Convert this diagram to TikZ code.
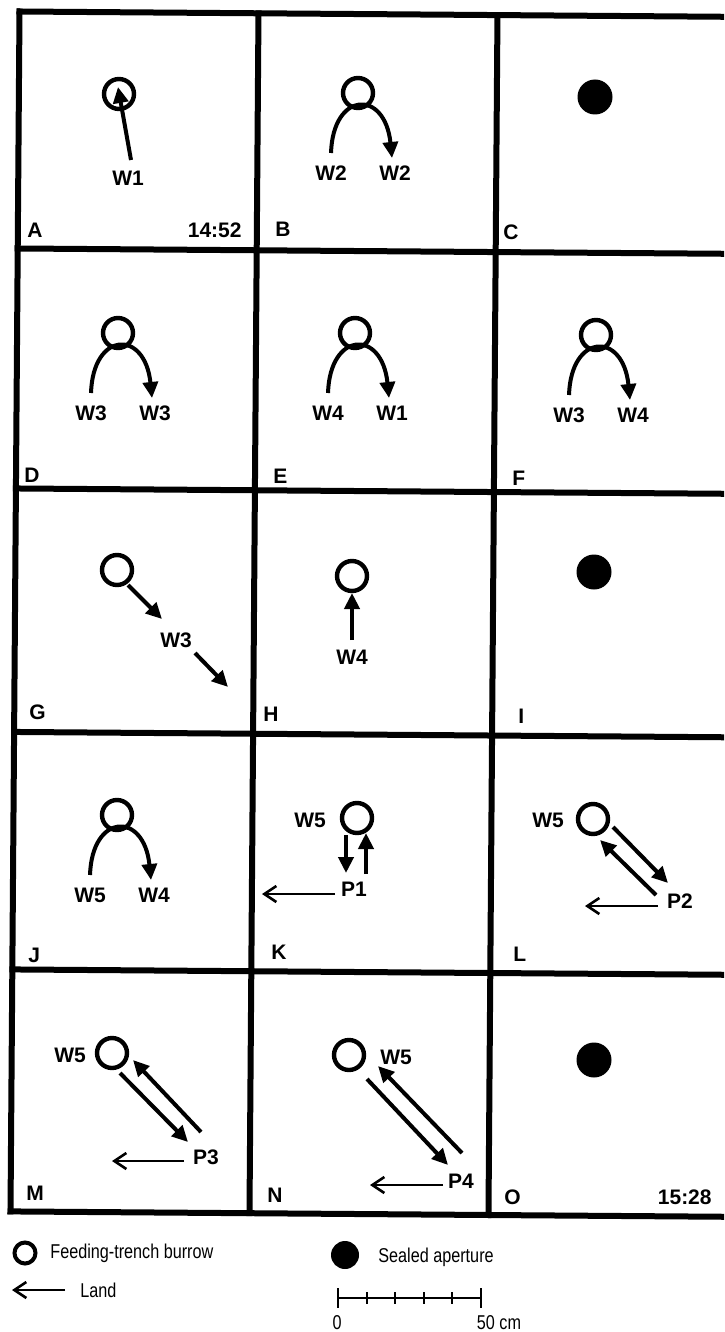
\documentclass[tikz,border=0pt]{standalone}
\usepackage{fontspec}
\setmainfont{Liberation Sans}
\newfontfamily\keyfont[FakeStretch=0.81]{Liberation Sans}
\usetikzlibrary{arrows.meta, positioning, calc}

\begin{document}
\begin{tikzpicture}[x=0.5pt, y=-0.5pt,
  burrow/.style={circle, draw, line width=2.2pt, minimum size=15pt, inner sep=0pt},
  sealed/.style={circle, fill, minimum size=17.5pt, inner sep=0pt},
  track/.style={line width=2pt, -{Triangle[length=8pt, width=7.5pt]}},
  land/.style={line width=1.3pt, -{Straight Barb[length=6pt, width=8pt]}},
  lab/.style={font=\bfseries\fontsize{10.5}{12}\selectfont, inner sep=1pt},
  panel/.style={font=\bfseries\fontsize{10.5}{12}\selectfont, inner sep=0pt, anchor=west},
  legend/.style={font=\keyfont\fontsize{10}{12}\selectfont, inner sep=0pt, anchor=west},
  gridline/.style={line width=3pt, line cap=rect}]

  \useasboundingbox (0,0) rectangle (724,1332);
  \clip (0,0) rectangle (724,1332);

  % grid of 15 panels (scan is slightly turned)
  \begin{scope}[rotate around={-0.43:(19.5,11.5)}]
    \foreach \gx in {19.5, 258.5, 497.5, 737}
      \draw[gridline] (\gx,11.5) -- (\gx,1211.5);
    \foreach \gy in {11.5, 248.5, 488.5, 732, 969.5, 1211.5}
      \draw[gridline] (19.5,\gy) -- (737,\gy);
  \end{scope}

  % panel letters
  \foreach \t/\lx/\ly in {A/27/230, B/275/229, C/503/232, D/24/475, E/273/476,
      F/512/478, G/29/712, H/263/714, I/518/716, J/28/955, K/271/952,
      L/513/954, M/26/1193, N/267/1195, O/504/1197}
    \node[panel] (p\t) at (\lx,\ly) {\t};
  \node[panel, anchor=east] (tmA) at (242,230) {14:52};
  \node[panel, anchor=east] (tmO) at (712,1197) {15:28};

  % A
  \node[burrow] (hA) at (119,94) {};
  \node[lab] (wA) at (128,178) {W1};
  \coordinate (sA) at (131,160);
  \coordinate (eA) at (118,87);
  \draw[track] (sA) -- (eA);

  % hairpin panels
  \foreach \p/\cx/\cy/\la/\lb in {B/358/93/W2/W2, D/118/333/W3/W3,
      E/355/333/W4/W1, F/596/335/W3/W4, J/117/815/W5/W4} {
    \begin{scope}[shift={(\cx,\cy)}]
      \node[burrow] (h\p) at (0,0) {};
      \node[lab] (l\p) at (-27,80) {\la};
      \node[lab] (r\p) at (37,80) {\lb};
      \coordinate (s\p) at (-27,60);
      \coordinate (e\p) at (34,65);
      \draw[track] (s\p) .. controls (-25,-2) and (27,-4) .. (e\p);
    \end{scope}
  }

  % sealed apertures
  \node[sealed] (hC) at (595,97) {};
  \node[sealed] (hI) at (594,572) {};
  \node[sealed] (hO) at (594,1060) {};

  % G
  \node[burrow] (hG) at (117,570) {};
  \node[lab] (wG) at (176,640) {W3};
  \coordinate (sG1) at (128,585);
  \coordinate (eG1) at (162,619);
  \coordinate (sG2) at (195,653);
  \coordinate (eG2) at (228,687);
  \draw[track] (sG1) -- (eG1);
  \draw[track] (sG2) -- (eG2);

  % H
  \node[burrow] (hH) at (352,576) {};
  \node[lab] (wH) at (352,657) {W4};
  \coordinate (sH) at (352,640);
  \coordinate (eH) at (352,593);
  \draw[track] (sH) -- (eH);

  % K
  \node[burrow] (hK) at (357,818) {};
  \node[lab] (wK) at (310,820) {W5};
  \node[lab] (qK) at (354,889) {P1};
  \coordinate (sK1) at (346,835);
  \coordinate (eK1) at (346,873);
  \coordinate (sK2) at (366,874);
  \coordinate (eK2) at (366,833);
  \coordinate (nK) at (335,894);
  \coordinate (mK) at (262,894);
  \draw[track] (sK1) -- (eK1);
  \draw[track] (sK2) -- (eK2);
  \draw[land] (nK) -- (mK);

  % L
  \node[burrow] (hL) at (593,819) {};
  \node[lab] (wL) at (548,820) {W5};
  \node[lab] (qL) at (680,901) {P2};
  \coordinate (sL1) at (613,827);
  \coordinate (eL1) at (668,883);
  \coordinate (sL2) at (656,895);
  \coordinate (eL2) at (600,840);
  \coordinate (nL) at (658,906);
  \coordinate (mL) at (585,906);
  \draw[track] (sL1) -- (eL1);
  \draw[track] (sL2) -- (eL2);
  \draw[land] (nL) -- (mL);

  % M
  \node[burrow] (hM) at (112,1053) {};
  \node[lab] (wM) at (70,1055) {W5};
  \node[lab] (qM) at (206,1157) {P3};
  \coordinate (sM1) at (120,1073);
  \coordinate (eM1) at (188,1142);
  \coordinate (sM2) at (201,1132);
  \coordinate (eM2) at (133,1060);
  \coordinate (nM) at (184,1161);
  \coordinate (mM) at (112,1161);
  \draw[track] (sM1) -- (eM1);
  \draw[track] (sM2) -- (eM2);
  \draw[land] (nM) -- (mM);

  % N
  \node[burrow] (hN) at (349,1055) {};
  \node[lab] (wN) at (396,1057) {W5};
  \node[lab] (qN) at (461,1181) {P4};
  \coordinate (sN1) at (367,1079);
  \coordinate (eN1) at (448,1165);
  \coordinate (sN2) at (462,1153);
  \coordinate (eN2) at (378,1066);
  \coordinate (nN) at (443,1185);
  \coordinate (mN) at (370,1185);
  \draw[track] (sN1) -- (eN1);
  \draw[track] (sN2) -- (eN2);
  \draw[land] (nN) -- (mN);

  % legend
  \node[burrow, minimum size=10.5pt, line width=2pt] (kB) at (25,1253) {};
  \node[legend] (kBt) at (50,1253) {Feeding-trench burrow};
  \coordinate (kL0) at (65,1290);
  \coordinate (kL1) at (12,1290);
  \draw[land] (kL0) -- (kL1);
  \node[legend] (kLt) at (80,1290) {Land};
  \node[sealed, minimum size=14pt] (kS) at (345,1255) {};
  \node[legend] (kSt) at (378,1257) {Sealed aperture};

  % scale bar
  \coordinate (sb0) at (338,1298);
  \coordinate (sb5) at (481,1298);
  \draw[line width=1pt] (sb0) -- (sb5);
  \foreach \i in {0,...,5}
    \draw[line width=1pt] ($(sb0)+(\i*28.6,-6)$) -- ($(sb0)+(\i*28.6,6)$);
  \draw[line width=1pt] ($(sb0)+(0,-10)$) -- ($(sb0)+(0,10)$);
  \draw[line width=1pt] ($(sb5)+(0,-10)$) -- ($(sb5)+(0,10)$);
  \node[legend, anchor=center] (sbz) at (337,1323) {0};
  \node[legend, anchor=center] (sbf) at (499,1323) {50 cm};
\end{tikzpicture}
\end{document}
